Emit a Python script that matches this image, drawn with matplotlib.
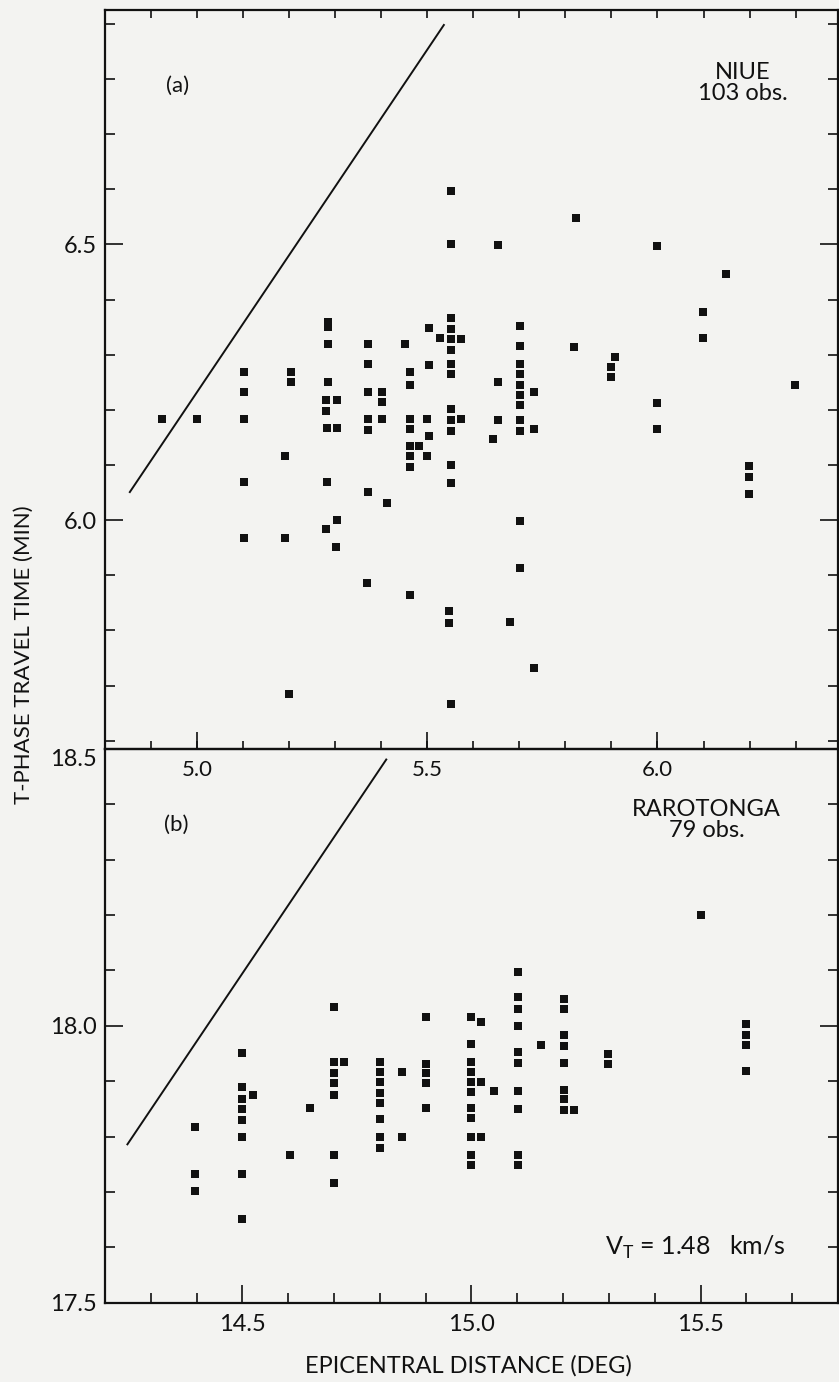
import matplotlib
matplotlib.use("Agg")
import matplotlib.pyplot as plt

plt.rcParams['font.family'] = ['Lato', 'DejaVu Sans']

# (a) Niue, 103 obs.  distance (deg) / travel time (min)
niue_dist = [4.923, 5.000,
             5.101, 5.101, 5.101, 5.101, 5.101,
             5.204, 5.204, 5.192, 5.192, 5.200,
             5.284, 5.284, 5.284, 5.284, 5.280, 5.303, 5.280, 5.282, 5.305, 5.282, 5.303, 5.280, 5.301,
             5.372, 5.372, 5.372, 5.401, 5.401, 5.372, 5.401, 5.372, 5.372, 5.412, 5.369,
             5.451, 5.462, 5.462, 5.503, 5.503, 5.462, 5.500, 5.462, 5.503, 5.462, 5.483, 5.462, 5.500, 5.462, 5.462,
             5.552, 5.552, 5.552, 5.552, 5.552, 5.552, 5.552, 5.552, 5.552, 5.552, 5.552, 5.552, 5.552,
             5.528, 5.574, 5.574, 5.547, 5.547, 5.551,
             5.653, 5.653, 5.653, 5.643, 5.679,
             5.701, 5.701, 5.701, 5.701, 5.701, 5.701, 5.701, 5.701, 5.701, 5.701, 5.701, 5.732, 5.731, 5.731,
             5.822, 5.819,
             5.908, 5.900, 5.900,
             6.000, 6.000, 6.000,
             6.098, 6.098,
             6.148,
             6.199, 6.199, 6.199,
             6.299]
niue_time = [6.184, 6.184,
             6.268, 6.233, 6.183, 6.070, 5.967,
             6.269, 6.250, 6.117, 5.967, 5.684,
             6.360, 6.350, 6.319, 6.251, 6.218, 6.218, 6.198, 6.167, 6.167, 6.070, 6.001, 5.984, 5.951,
             6.320, 6.284, 6.233, 6.233, 6.215, 6.183, 6.183, 6.164, 6.052, 6.032, 5.886,
             6.320, 6.268, 6.245, 6.349, 6.281, 6.183, 6.183, 6.165, 6.153, 6.135, 6.135, 6.116, 6.116, 6.097, 5.865,
             6.597, 6.500, 6.367, 6.346, 6.329, 6.309, 6.283, 6.265, 6.201, 6.181, 6.162, 6.100, 6.067,
             6.331, 6.328, 6.184, 5.835, 5.814, 5.667,
             6.499, 6.250, 6.182, 6.148, 5.815,
             6.352, 6.316, 6.283, 6.265, 6.245, 6.227, 6.209, 6.182, 6.162, 5.998, 5.914, 6.232, 6.165, 5.732,
             6.548, 6.314,
             6.296, 6.278, 6.260,
             6.497, 6.213, 6.165,
             6.378, 6.331,
             6.446,
             6.099, 6.079, 6.047,
             6.245]

# (b) Rarotonga, 79 obs.
raro_dist = [14.397, 14.397, 14.397,
             14.500, 14.500, 14.500, 14.500, 14.500, 14.500, 14.500, 14.500,
             14.523, 14.604, 14.648,
             14.700, 14.700, 14.700, 14.700, 14.700, 14.700, 14.700, 14.722,
             14.800, 14.800, 14.800, 14.800, 14.800, 14.800, 14.800, 14.800,
             14.849, 14.849,
             14.900, 14.900, 14.900, 14.900, 14.900,
             15.000, 15.000, 15.000, 15.000, 15.000, 15.000, 15.000, 15.000, 15.000, 15.000, 15.000,
             15.021, 15.021, 15.021, 15.050,
             15.102, 15.102, 15.102, 15.102, 15.102, 15.102, 15.102, 15.102, 15.102, 15.102,
             15.152,
             15.201, 15.201, 15.201, 15.201, 15.201, 15.201, 15.201, 15.201, 15.223,
             15.298, 15.298,
             15.502,
             15.599, 15.599, 15.599, 15.599]
raro_time = [17.817, 17.733, 17.701,
             17.951, 17.889, 17.867, 17.849, 17.830, 17.800, 17.732, 17.651,
             17.876, 17.766, 17.851,
             18.034, 17.934, 17.915, 17.897, 17.876, 17.766, 17.717, 17.934,
             17.934, 17.916, 17.898, 17.879, 17.861, 17.831, 17.800, 17.780,
             17.916, 17.800,
             18.016, 17.932, 17.914, 17.896, 17.851,
             18.016, 17.967, 17.934, 17.916, 17.899, 17.880, 17.851, 17.833, 17.800, 17.766, 17.748,
             18.007, 17.899, 17.800, 17.882,
             18.098, 18.052, 18.030, 18.000, 17.953, 17.933, 17.882, 17.849, 17.766, 17.748,
             17.965,
             18.049, 18.031, 17.983, 17.964, 17.933, 17.885, 17.867, 17.848, 17.848,
             17.950, 17.932,
             18.200,
             18.004, 17.983, 17.965, 17.918]

# V_T = 1.48 km/s reference lines (end points)
vline_a_x = [4.854, 5.536]
vline_a_y = [6.051, 6.898]
vline_b_x = [14.249, 14.814]
vline_b_y = [17.786, 18.481]

xmajor_a = [5.0, 5.5, 6.0]
xminor_a = [4.9, 5.0, 5.1, 5.2, 5.3, 5.4, 5.5, 5.6, 5.7, 5.8, 5.9, 6.0, 6.1, 6.2, 6.3]
ymajor_a = [6.0, 6.5]
yminor_a = [5.6, 5.7, 5.8, 5.9, 6.1, 6.2, 6.3, 6.4, 6.6, 6.7, 6.8, 6.9]
xmajor_b = [14.5, 15.0, 15.5]
xminor_b = [14.3, 14.4, 14.6, 14.7, 14.8, 14.9, 15.1, 15.2, 15.3, 15.4, 15.6, 15.7]
ymajor_b = [17.5, 18.0, 18.5]
yminor_b = [17.6, 17.7, 17.8, 17.9, 18.1, 18.2, 18.3, 18.4]

bg = '#f3f3f1'
ink = '#111111'

fig = plt.figure(figsize=(8.39, 13.82), dpi=100, facecolor=bg)
ax_a = fig.add_axes([0.1251, 0.4580, 0.8737, 0.5347])
ax_b = fig.add_axes([0.1251, 0.05738, 0.8737, 0.40065])

for ax in (ax_a, ax_b):
    ax.set_facecolor('none')
    for s in ax.spines.values():
        s.set_linewidth(1.6)
        s.set_color(ink)

# ---- panel (a)
ax_a.scatter(niue_dist, niue_time, marker='s', s=36, color=ink, linewidths=0, zorder=3)
ax_a.plot(vline_a_x, vline_a_y, color=ink, lw=1.4)
ax_a.set_xlim(4.8, 6.392)
ax_a.set_ylim(5.585, 6.925)
ax_a.xaxis.remove_overlapping_locs = False
ax_a.set_xticks(xmajor_a)
ax_a.set_xticks(xminor_a, minor=True)
ax_a.set_xticklabels(['5.0', '5.5', '6.0'])
ax_a.set_yticks(ymajor_a)
ax_a.set_yticks(yminor_a, minor=True)
ax_a.set_yticklabels(['6.0', '6.5'])
ax_a.tick_params(axis='x', which='major', direction='in', length=12, width=1.2,
                 bottom=True, top=False, labelsize=16, pad=8, colors=ink)
ax_a.tick_params(axis='x', which='minor', direction='in', length=6, width=1.2,
                 bottom=True, top=True, colors=ink)
ax_a.tick_params(axis='y', which='major', direction='in', length=13, width=1.2,
                 left=True, right=True, labelsize=17, pad=6, colors=ink)
ax_a.tick_params(axis='y', which='minor', direction='in', length=7, width=1.2,
                 left=True, right=True, colors=ink)

ax_a.text(0.0996, 0.898, '(a)', transform=ax_a.transAxes, fontsize=16,
          ha='center', va='center', color=ink)
ax_a.text(0.870, 0.902, 'NIUE\n103 obs.', transform=ax_a.transAxes, fontsize=17,
          ha='center', va='center', color=ink, linespacing=1.0)

# ---- panel (b)
ax_b.scatter(raro_dist, raro_time, marker='s', s=30, color=ink, linewidths=0, zorder=3)
ax_b.plot(vline_b_x, vline_b_y, color=ink, lw=1.4)
ax_b.set_xlim(14.2, 15.8)
ax_b.set_ylim(17.5, 18.5)
ax_b.set_xticks(xmajor_b)
ax_b.set_xticks(xminor_b, minor=True)
ax_b.set_xticklabels(['14.5', '15.0', '15.5'])
ax_b.set_yticks(ymajor_b)
ax_b.set_yticks(yminor_b, minor=True)
ax_b.set_yticklabels(['17.5', '18.0', '18.5'])
ax_b.tick_params(axis='x', which='major', direction='in', length=13, width=1.2,
                 bottom=True, top=False, labelsize=17, pad=8, colors=ink)
ax_b.tick_params(axis='x', which='minor', direction='in', length=7, width=1.2,
                 bottom=True, top=False, colors=ink)
ax_b.tick_params(axis='y', which='major', direction='in', length=13, width=1.2,
                 left=True, right=True, labelsize=17, pad=6, colors=ink)
ax_b.tick_params(axis='y', which='minor', direction='in', length=7, width=1.2,
                 left=True, right=True, colors=ink)
ax_b.get_yticklabels()[-1].set_va('top')

ax_b.text(0.097, 0.863, '(b)', transform=ax_b.transAxes, fontsize=16,
          ha='center', va='center', color=ink)
ax_b.text(0.821, 0.872, 'RAROTONGA\n79 obs.', transform=ax_b.transAxes, fontsize=17,
          ha='center', va='center', color=ink, linespacing=1.0)
ax_b.text(0.805, 0.099, r'V$_\mathregular{T}$ = 1.48   km/s', transform=ax_b.transAxes,
          fontsize=18, ha='center', va='center', color=ink)

fig.text(0.558, 0.0116, 'EPICENTRAL DISTANCE (DEG)', fontsize=17, ha='center',
         va='center', color=ink)
fig.text(0.029, 0.526, 'T-PHASE TRAVEL TIME (MIN)', fontsize=16, rotation=90,
         ha='center', va='center', color=ink)

fig.savefig('out.png', dpi=100, facecolor=bg)
